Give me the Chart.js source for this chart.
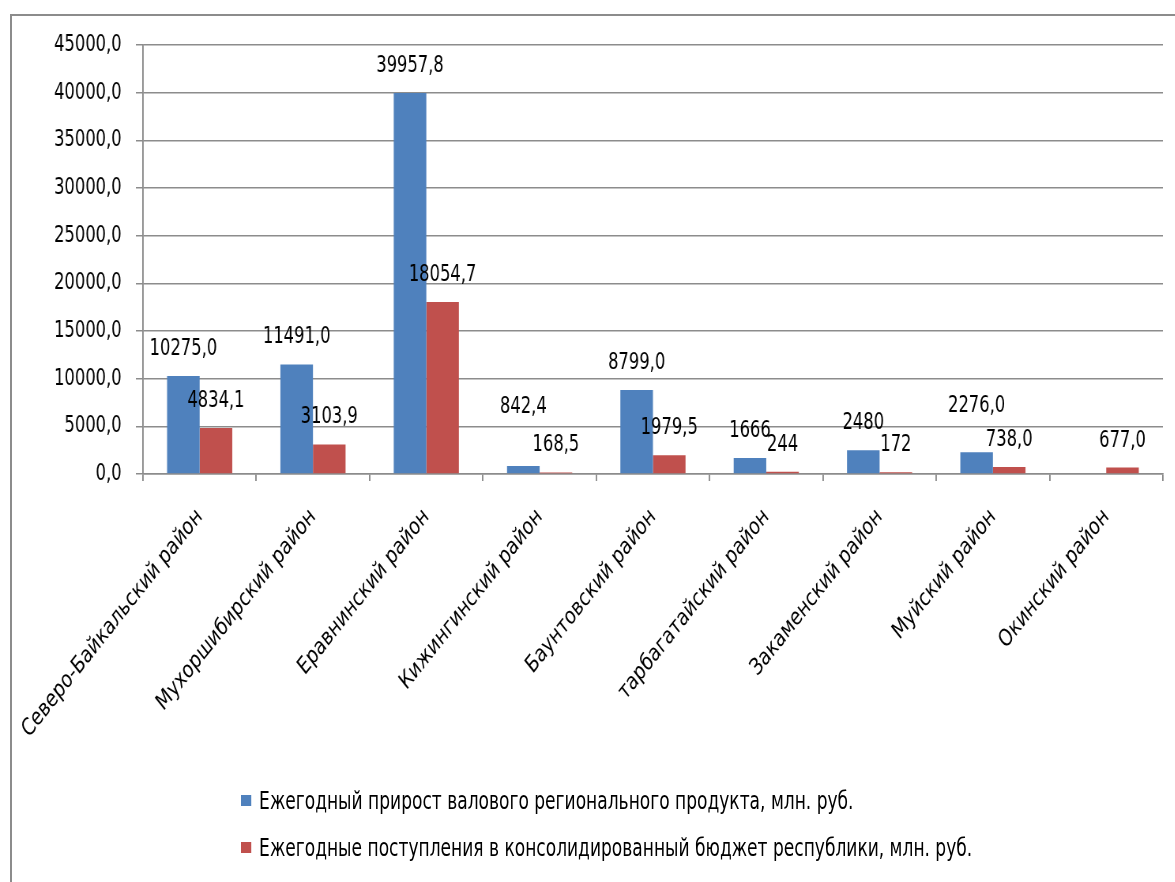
<!DOCTYPE html>
<html>
<head>
<meta charset="utf-8">
<script src="https://cdn.jsdelivr.net/npm/chart.js@4/dist/chart.umd.min.js"></script>
<style>
body{margin:0;background:#fff;overflow:hidden;}
#page{position:relative;width:1175px;height:882px;overflow:hidden;}
#frame{position:absolute;left:10px;top:14px;width:1200px;height:900px;border-left:2px solid #8c8c8c;border-top:2px solid #8c8c8c;}
/* the picture is squeezed sideways, so draw wide and squeeze */
#wrap{position:absolute;left:0;top:0;width:1487px;height:882px;transform:scaleX(0.79);transform-origin:0 0;}
#canvas{position:absolute;left:0;top:0;}
#legend{position:absolute;left:305px;top:788px;font-family:"DejaVu Sans Condensed","DejaVu Sans",sans-serif;font-size:24px;color:#000;}
#legend div{height:47px;line-height:26px;white-space:nowrap;}
#legend span{display:inline-block;width:13px;height:11px;margin-right:10px;vertical-align:middle;position:relative;top:-2px;}
</style>
</head>
<body>
<div id="page">
<div id="frame"></div>
<div id="wrap">
<canvas id="canvas" width="1487" height="882"></canvas>
<div id="legend"></div>
</div>
</div>
<script>
// data
const districts = ['Северо-Байкальский район', 'Мухоршибирский район', 'Еравнинский район', 'Кижингинский район', 'Баунтовский район', 'тарбагатайский район', 'Закаменский район', 'Муйский район', 'Окинский район'];
const grpGrowth = [10275.0, 11491.0, 39957.8, 842.4, 8799.0, 1666, 2480, 2276.0, null];
const budgetIncome = [4834.1, 3103.9, 18054.7, 168.5, 1979.5, 244, 172, 738.0, 677.0];
const grpText = ['10275,0', '11491,0', '39957,8', '842,4', '8799,0', '1666', '2480', '2276,0', ''];
const budgetText = ['4834,1', '3103,9', '18054,7', '168,5', '1979,5', '244', '172', '738,0', '677,0'];
const yTicks = [0, 5000, 10000, 15000, 20000, 25000, 30000, 35000, 40000, 45000];

const fontName = '"DejaVu Sans Condensed", "DejaVu Sans", sans-serif';
const gridColor = '#8c8c8c';
// a couple of labels were lifted by hand in the original
const labelLift = { '0-3': 32, '0-7': 19 };

// value labels over the bars
const barLabels = {
    id: 'barLabels',
    afterDatasetsDraw(chart){
        const ctx = chart.ctx;
        const texts = [grpText, budgetText];
        ctx.save();
        ctx.font = '23px ' + fontName;
        ctx.fillStyle = '#000';
        ctx.textAlign = 'center';
        ctx.textBaseline = 'middle';
        chart.data.datasets.forEach(function(ds, i){
            chart.getDatasetMeta(i).data.forEach(function(bar, j){
                if (ds.data[j] == null) return;
                var lift = labelLift[i + '-' + j] || 0;
                ctx.fillText(texts[i][j], bar.x, bar.y - 27 - lift);
            });
        });
        ctx.restore();
    }
};

const data = {
    labels: districts,
    datasets: [
        {
            label: 'Ежегодный прирост валового регионального продукта, млн. руб.',
            backgroundColor: '#4f81bd',
            data: grpGrowth,
        },
        {
            label: 'Ежегодные поступления в консолидированный бюджет республики, млн. руб.',
            backgroundColor: '#c0504d',
            data: budgetIncome,
        },
    ]
};

const config = {
    type: 'bar',
    data: data,
    options: {
        responsive: false,
        animation: false,
        layout: { padding: { left: 0, top: 45, right: 15, bottom: 0 } },
        datasets: { bar: { categoryPercentage: 0.575, barPercentage: 1.0 } },
        plugins: { legend: { display: false }, tooltip: { enabled: false } },
        scales: {
            x: {
                afterFit: function(scale){
                    scale.height = 408;
                    scale.paddingLeft = 0;
                    scale.paddingRight = 0;
                },
                grid: { display: true, drawOnChartArea: false, color: gridColor, lineWidth: 1.9, tickLength: 7, offset: true },
                border: { color: gridColor, width: 1.5 },
                ticks: {
                    autoSkip: false, minRotation: 45, maxRotation: 45, padding: 22,
                    color: '#000', font: { family: fontName, size: 24 }
                }
            },
            y: {
                min: 0, max: 45000,
                afterFit: function(scale){ scale.width = 181; },
                afterBuildTicks: function(scale){ scale.ticks = yTicks.map(function(v){ return { value: v }; }); },
                grid: { color: gridColor, lineWidth: 1.5, tickLength: 9 },
                border: { color: gridColor, width: 1.9 },
                ticks: {
                    padding: 18, color: '#000', font: { family: fontName, size: 23 },
                    callback: function(v){ return v.toFixed(1).replace('.', ','); }
                }
            }
        }
    },
    plugins: [barLabels]
};

const canvas = document.getElementById("canvas");
const chart = new Chart(canvas, config);

// legend (stacked, left aligned)
var legendBox = document.getElementById("legend");
chart.data.datasets.forEach(function(ds){
    var row = document.createElement("div");
    row.innerHTML = '<span style="background:' + ds.backgroundColor + '"></span>' + ds.label;
    legendBox.appendChild(row);
});
</script>
</body>
</html>
